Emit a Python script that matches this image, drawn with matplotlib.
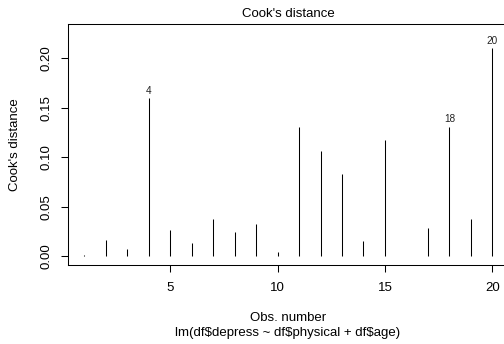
import numpy as np
import matplotlib
matplotlib.use("Agg")
import matplotlib.pyplot as plt

plt.rcParams['font.family'] = ['Liberation Sans', 'DejaVu Sans']

# Cook's distance per observation
obs = np.arange(1, 21)
cooks = [0.001, 0.0162, 0.007, 0.160, 0.026, 0.0129, 0.0379, 0.0244, 0.032, 0.0037,
         0.131, 0.106, 0.0833, 0.0155, 0.1175, 0.0005, 0.0281, 0.131, 0.0376, 0.2099]
labeled = [4, 18, 20]

W, H = 504, 344
fig = plt.figure(figsize=(W / 100, H / 100), dpi=100)
# plot region (right edge falls slightly outside the image, as in the reference)
left, right, top, bottom = 68, 508.6, 24, 265
ax = fig.add_axes([left / W, 1 - bottom / H, (right - left) / W, (bottom - top) / H])

ax.vlines(obs, 0, cooks, color='black', linewidth=0.75)
for k in labeled:
    ax.annotate(str(k), (k, cooks[k - 1]), xytext=(0, 1.5), textcoords='offset points',
                ha='center', va='bottom', fontsize=7.2, color='#222222')

ymax = max(cooks) * 1.075
ax.set_ylim(-0.04 * ymax, ymax * 1.04)
ax.set_xlim(1 - 0.04 * 19, 20 + 0.04 * 19)
ax.set_xticks([5, 10, 15, 20])
ax.set_yticks([0.0, 0.05, 0.10, 0.15, 0.20])
ax.set_yticklabels(['0.00', '0.05', '0.10', '0.15', '0.20'], rotation=90, va='center')
ax.tick_params(axis='both', direction='out', length=5, width=0.75, labelsize=9.5, colors='black')
ax.tick_params(axis='y', pad=6)
ax.tick_params(axis='x', pad=7)
for s in ax.spines.values():
    s.set_linewidth(0.75)

def px(x, y):
    return x / W, 1 - y / H

fig.text(*px(288, 14), "Cook's distance", ha='center', va='center', fontsize=9.5)
fig.text(*px(15, 144.5), "Cook's distance", ha='center', va='center', rotation=90, fontsize=9.5)
fig.text(*px(288, 318), "Obs. number", ha='center', va='center', fontsize=9.5)
fig.text(*px(288, 333), r"lm(df\$depress ~ df\$physical + df\$age)", ha='center', va='center', fontsize=9.5)

fig.savefig('out.png', dpi=100)
